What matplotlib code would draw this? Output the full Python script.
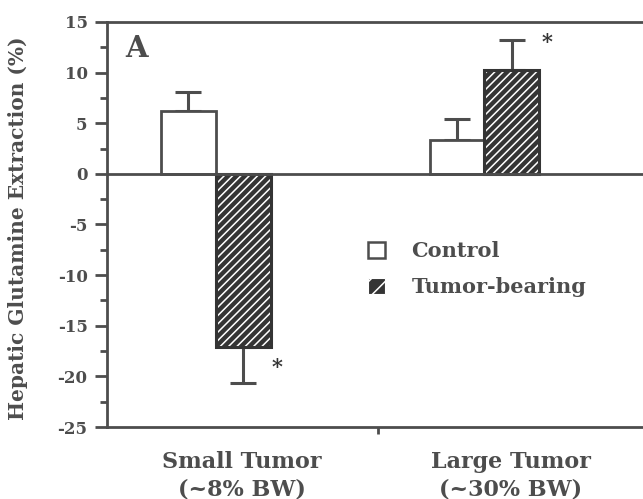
import matplotlib
matplotlib.use("Agg")
import matplotlib.pyplot as plt
import matplotlib.patches as mpatches
import numpy as np

groups = ["Small Tumor\n(~8% BW)", "Large Tumor\n(~30% BW)"]
control = [6.2, 3.3]
control_err = [1.9, 2.1]
tumor = [-17.1, 10.3]
tumor_err = [3.6, 2.9]
significant = [True, True]
yticks = [15, 10, 5, 0, -5, -10, -15, -20, -25]

INK = "#4d4d4d"
DARK = "#343434"
FONT = ["DejaVu Serif"]

plt.rcParams["font.family"] = FONT
plt.rcParams["font.weight"] = "bold"
plt.rcParams["hatch.linewidth"] = 1.1

fig = plt.figure(figsize=(6.43, 4.99), dpi=100)
ax = fig.add_axes([107 / 643, 1 - 427 / 499, 1 - 107 / 643, (427 - 22) / 499])

x = np.arange(len(groups))
w = 0.204

# control bars
ax.bar(x - w / 2, control, w, facecolor="white", edgecolor=INK, linewidth=2.0, zorder=3)
# tumor bars: dark fill with white hatch, then outline
ax.bar(x + w / 2, tumor, w, facecolor=DARK, edgecolor="white", hatch="////", linewidth=0, zorder=3)
ax.bar(x + w / 2, tumor, w, facecolor="none", edgecolor=DARK, linewidth=2.2, zorder=4)

# one-sided error bars (away from zero)
def one_sided(vals, errs):
    lo = [e if v < 0 else 0 for v, e in zip(vals, errs)]
    hi = [e if v >= 0 else 0 for v, e in zip(vals, errs)]
    return [lo, hi]

ax.errorbar(x - w / 2, control, yerr=one_sided(control, control_err), fmt="none",
            ecolor=INK, elinewidth=2.2, capsize=9.5, capthick=2.2, zorder=2)
ax.errorbar(x + w / 2, tumor, yerr=one_sided(tumor, tumor_err), fmt="none",
            ecolor=INK, elinewidth=2.2, capsize=9.5, capthick=2.2, zorder=2)

# significance asterisks
for xi, v, e, s in zip(x, tumor, tumor_err, significant):
    if not s:
        continue
    if v < 0:
        ax.text(xi + w + 0.022, v - e + 1.6, "*", ha="center", va="center",
                fontsize=15, color=DARK, fontweight="bold")
    else:
        ax.text(xi + w + 0.03, v + e - 0.2, "*", ha="center", va="center",
                fontsize=15, color=DARK, fontweight="bold")

ax.axhline(0, color=INK, linewidth=2.0, zorder=5)

ax.set_xlim(-0.405, 1.59)
ax.set_ylim(-25, 15)
ax.set_yticks(yticks)
ax.set_yticklabels([str(t) for t in yticks])
ax.set_yticks(np.arange(-22.5, 15, 5), minor=True)
ax.set_xticks([0.602])
ax.set_xticklabels([""])

for side in ["left", "top", "bottom"]:
    ax.spines[side].set_color(INK)
    ax.spines[side].set_linewidth(2.0)
ax.spines["right"].set_visible(False)

ax.tick_params(axis="y", which="major", direction="out", length=9, width=2.0,
               color=INK, labelsize=12, labelcolor=INK, pad=5)
ax.tick_params(axis="y", which="minor", direction="out", length=5, width=2.0, color=INK)
ax.tick_params(axis="x", which="major", direction="out", length=5, width=2.0, color=INK)
for lab in ax.get_yticklabels():
    lab.set_fontweight("bold")

# category labels (offset to the right of group centres)
for xi, g in zip(x, groups):
    ax.text(xi + 0.097, -27.4, g, ha="center", va="top", fontsize=16,
            color=INK, fontweight="bold", linespacing=1.3,
            transform=ax.transData, clip_on=False)

ax.set_ylabel("Hepatic Glutamine Extraction (%)", fontsize=14.5, color=INK,
              fontweight="bold")
ax.yaxis.set_label_coords(-0.147, 0.49)

ax.text(0.056, 0.935, "A", transform=ax.transAxes, fontsize=21, color=INK,
        fontweight="bold", ha="center", va="center")

handles = [
    mpatches.Patch(facecolor="white", edgecolor=INK, linewidth=1.8, label="Control"),
    mpatches.Patch(facecolor=DARK, edgecolor="white", hatch="//", linewidth=0.8, label="Tumor-bearing"),
]
leg = ax.legend(handles=handles, loc="center left", bbox_to_anchor=(349 / 643, 1 - 269 / 499),
                bbox_transform=fig.transFigure, frameon=False, fontsize=15,
                handlelength=0.85, handleheight=0.8, handletextpad=1.25, labelspacing=0.75)
for t in leg.get_texts():
    t.set_color(INK)
    t.set_fontweight("bold")

fig.savefig("out.png", dpi=100)
